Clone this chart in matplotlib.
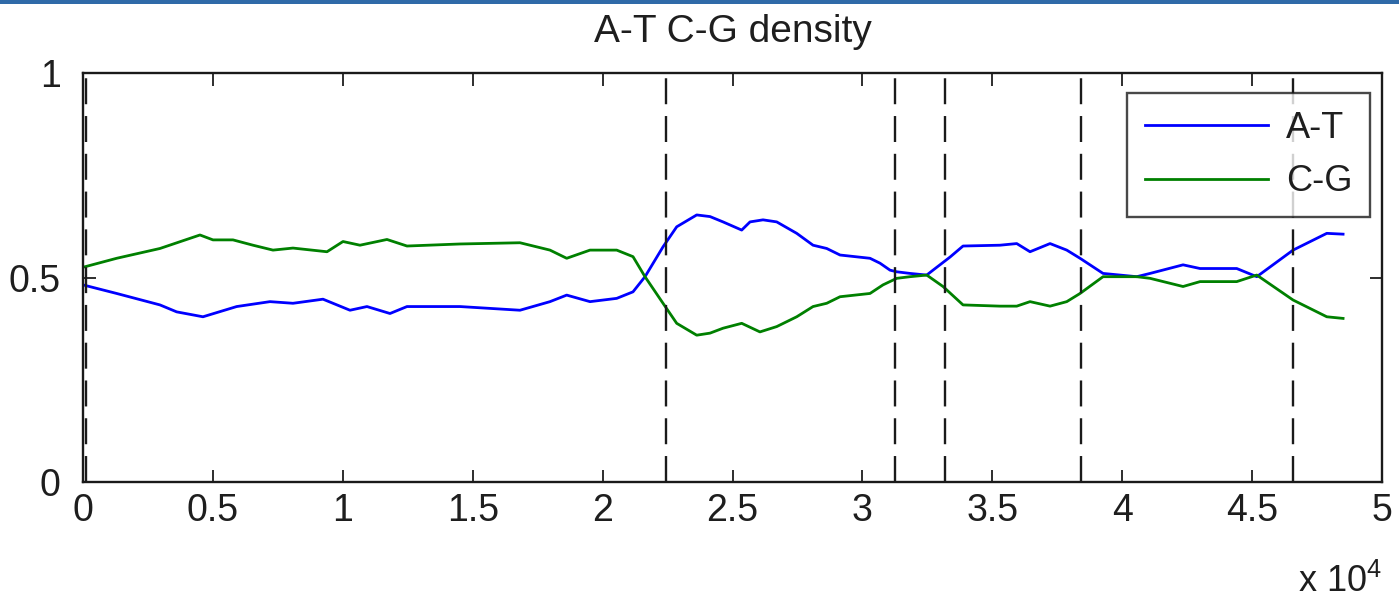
import matplotlib
matplotlib.use("Agg")
import matplotlib.pyplot as plt
from matplotlib.patches import Rectangle

plt.rcParams['font.family'] = ['Liberation Sans', 'DejaVu Sans']
plt.rcParams['mathtext.fontset'] = 'custom'
plt.rcParams['mathtext.rm'] = 'Liberation Sans'

# A-T density along the genome (position in bp)
at_pos = [0, 1297, 2964, 3607, 4619, 5916, 7198, 8083, 9238, 9623, 10277, 10931,
          11817, 12471, 14511, 16820, 17975, 18618, 19515, 20543, 21170, 21632,
          22325, 22852, 23622, 24134, 24634, 25354, 25674, 26174, 26701, 27471,
          28099, 28626, 29138, 30292, 30677, 31062, 31320, 31832, 32475, 32717,
          33372, 33872, 35296, 35939, 36451, 37221, 37864, 38376, 39261, 40558,
          41070, 42340, 42995, 44407, 45178, 46574, 47872, 48499]
at_vals = [0.482, 0.461, 0.433, 0.416, 0.404, 0.429, 0.441, 0.437, 0.447, 0.437,
           0.420, 0.429, 0.412, 0.429, 0.429, 0.420, 0.441, 0.457, 0.441, 0.449,
           0.465, 0.502, 0.575, 0.624, 0.653, 0.649, 0.636, 0.616, 0.636, 0.641,
           0.636, 0.608, 0.579, 0.571, 0.555, 0.547, 0.535, 0.518, 0.514, 0.510,
           0.506, 0.518, 0.550, 0.577, 0.579, 0.583, 0.563, 0.583, 0.567, 0.547,
           0.510, 0.502, 0.510, 0.531, 0.522, 0.522, 0.502, 0.567, 0.608, 0.606]

# C-G density
cg_pos = [0, 1297, 2964, 4503, 5004, 5774, 6544, 7314, 8083, 9392, 10008, 10662,
          11701, 12471, 14511, 16820, 17975, 18618, 19515, 20543, 21170, 21632,
          22325, 22852, 23622, 24134, 24634, 25354, 26055, 26701, 27471, 28099,
          28626, 29138, 30292, 30792, 31320, 31832, 32475, 33102, 33872, 35296,
          35939, 36451, 37221, 37864, 38376, 39261, 40558, 41070, 42340, 42995,
          44407, 45178, 46574, 47872, 48499]
cg_vals = [0.525, 0.547, 0.571, 0.604, 0.592, 0.592, 0.579, 0.567, 0.572, 0.563,
           0.588, 0.579, 0.593, 0.577, 0.582, 0.585, 0.567, 0.547, 0.567, 0.567,
           0.551, 0.502, 0.437, 0.388, 0.359, 0.364, 0.376, 0.388, 0.367, 0.380,
           0.404, 0.429, 0.437, 0.453, 0.461, 0.482, 0.498, 0.502, 0.506, 0.478,
           0.433, 0.430, 0.430, 0.441, 0.430, 0.441, 0.461, 0.502, 0.502, 0.498,
           0.478, 0.490, 0.490, 0.506, 0.445, 0.404, 0.400]

# segment boundaries (dashed lines)
boundaries = [100, 22440, 31250, 33180, 38410, 46570]

xticks = [0, 5000, 10000, 15000, 20000, 25000, 30000, 35000, 40000, 45000, 50000]
xtick_labels = ['0', '0.5', '1', '1.5', '2', '2.5', '3', '3.5', '4', '4.5', '5']
yticks = [0, 0.5, 1]
ytick_labels = ['0', '0.5', '1']

txt = '#1e1e1e'

fig = plt.figure(figsize=(13.99, 6.05), dpi=100)
ax = fig.add_axes([0.0593, 0.2033, 0.9286, 0.676])

# screenshot border at the top
fig.add_artist(Rectangle((0, 0.994), 1, 0.006, transform=fig.transFigure,
                         color='#2f6aa8', lw=0))

ax.plot(at_pos, at_vals, color='#0000ff', lw=2.0, label='A-T')
ax.plot(cg_pos, cg_vals, color='#008000', lw=2.0, label='C-G')
for b in boundaries:
    ax.axvline(b, color='#1a1a1a', lw=1.7, linestyle=(0, (11, 5)))

ax.set_xlim(0, 50000)
ax.set_ylim(0, 1)
ax.set_xticks(xticks)
ax.set_xticklabels(xtick_labels)
ax.set_yticks(yticks)
ax.set_yticklabels(ytick_labels)
ax.tick_params(direction='in', length=9, width=1.3, top=True, right=True,
               labelsize=27, colors=txt)
ax.tick_params(axis='x', pad=8)
ax.tick_params(axis='y', pad=16)
for s in ax.spines.values():
    s.set_linewidth(1.7)
    s.set_color('#1a1a1a')

ax.set_title('A-T C-G density', fontsize=28, pad=22, color=txt)
ax.text(1.0, -0.2, r'x 10$^{4}$', transform=ax.transAxes, fontsize=26,
        ha='right', va='top', color=txt)

leg = ax.legend(loc='upper right', bbox_to_anchor=(0.991, 0.951), borderaxespad=0,
                fontsize=26, frameon=True, fancybox=False, handlelength=3.4,
                handletextpad=0.5, labelspacing=0.5, borderpad=0.5)
leg.get_frame().set_edgecolor('#1a1a1a')
leg.get_frame().set_linewidth(1.7)
for t in leg.get_texts():
    t.set_color(txt)

fig.savefig('out.png', dpi=100)
